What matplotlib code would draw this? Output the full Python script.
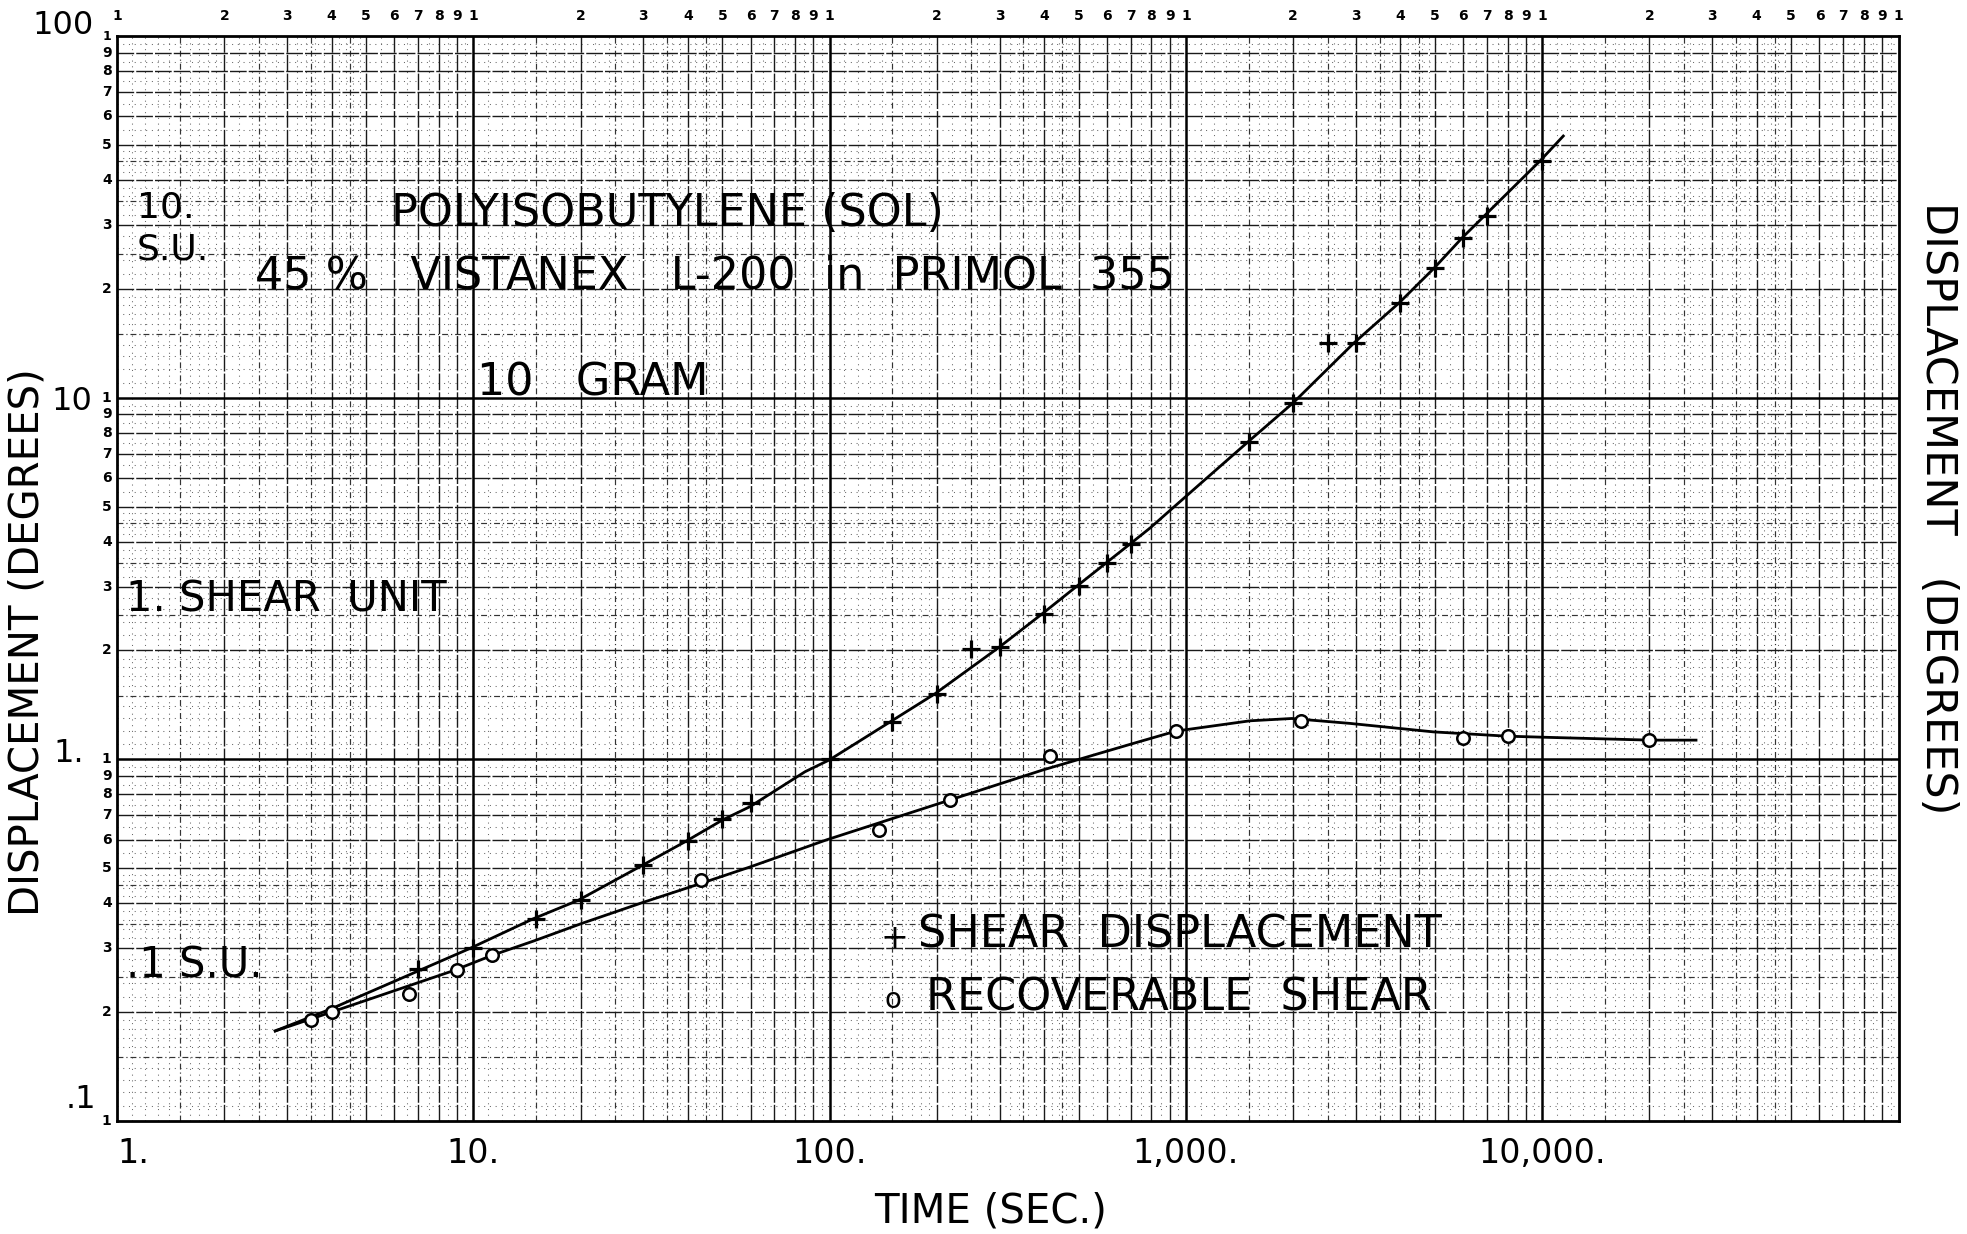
import numpy as np
import matplotlib
matplotlib.use("Agg")
import matplotlib.pyplot as plt

# ---------------- data ----------------
shear_t = [7, 10, 15, 20, 30, 40, 50, 60, 100, 150, 200, 250, 300, 400, 500,
           600, 700, 1500, 2000, 2500, 3000, 4000, 5000, 6000, 7000, 10000]
shear_d = [0.263, 0.30, 0.362, 0.408, 0.511, 0.596, 0.682, 0.756, 1.0, 1.27,
           1.52, 2.02, 2.04, 2.53, 3.02, 3.48, 3.94, 7.56, 9.68, 14.2, 14.2,
           18.3, 22.8, 27.7, 31.7, 45.1]

recov_t = [3.5, 4, 6.6, 9, 11.3, 43.5, 138, 218, 415, 940, 2100, 6000, 8000, 20000]
recov_d = [0.190, 0.200, 0.225, 0.261, 0.287, 0.465, 0.638, 0.773, 1.02, 1.20,
           1.277, 1.147, 1.16, 1.13]

# hand-drawn curves (vertices)
shear_curve_t = [2.78, 3.96, 9.74, 14.7, 19.7, 30.0, 39.7, 50.1, 59.8, 85.3, 99.8,
                 148, 198, 298, 396, 496, 697, 793, 1095, 1497, 2001, 2963, 3963,
                 4970, 5968, 9851, 11460]
shear_curve_d = [0.1774, 0.2036, 0.2994, 0.362, 0.4076, 0.511, 0.595, 0.680, 0.740,
                 0.924, 0.996, 1.27, 1.52, 2.036, 2.53, 3.02, 3.94, 4.36, 5.77, 7.56,
                 9.68, 14.17, 18.27, 22.8, 27.7, 45.1, 52.9]

recov_curve_t = [2.78, 3.96, 8.83, 11.28, 14.74, 20.36, 30.0, 43.6, 59.8, 98.1,
                 217.7, 396, 697, 938, 1513, 1982, 2888, 4948, 7950, 10440, 20080, 27020]
recov_curve_d = [0.1774, 0.1994, 0.2608, 0.287, 0.3143, 0.353, 0.4024, 0.454, 0.504,
                 0.599, 0.772, 0.934, 1.10, 1.197, 1.278, 1.297, 1.257, 1.191, 1.159,
                 1.15, 1.130, 1.130]

x_decade_labels = ["1.", "10.", "100.", "1,000.", "10,000."]
x_decades = [1, 10, 100, 1000, 10000]
y_decade_labels = [".1", "1.", "10", "100"]
y_decades = [0.1, 1, 10, 100]

# ---------------- figure ----------------
W, H = 1967, 1234
fig = plt.figure(figsize=(W / 100, H / 100), dpi=100)
L, R, T, B = 117, 1898.5, 36, 1121
ax = fig.add_axes([L / W, 1 - B / H, (R - L) / W, (B - T) / H])
ax.set_xscale("log")
ax.set_yscale("log")
ax.set_xlim(1, 1e5)
ax.set_ylim(0.1, 100)
ax.set_xticks([])
ax.set_yticks([])
ax.minorticks_off()
ax.tick_params(which="both", length=0, labelbottom=False, labelleft=False)
for s in ax.spines.values():
    s.set_linewidth(2.0)
    s.set_color("black")

# ---------------- graph paper grid ----------------
ink = "#1a1a1a"
fine_mult = [1.1, 1.2, 1.3, 1.4, 1.6, 1.7, 1.8, 1.9,
             2.2, 2.4, 2.6, 2.8, 3.2, 3.4, 3.6, 3.8, 4.2, 4.4, 4.6, 4.8,
             5.5, 6.5, 7.5, 8.5, 9.5]
half_mult = [1.5, 2.5, 3.5, 4.5]
int_mult = [2, 3, 4, 5, 6, 7, 8, 9]


def vlines(k_range, mults, **kw):
    for k in k_range:
        for m in mults:
            ax.axvline(m * 10.0 ** k, **kw)


def hlines(k_range, mults, **kw):
    for k in k_range:
        for m in mults:
            ax.axhline(m * 10.0 ** k, **kw)


fine_kw = dict(color="#6a6a6a", lw=0.75, ls=(0, (1, 4.5)), zorder=1)
half_kw = dict(color="#333333", lw=0.85, ls=(0, (5, 2.5, 1, 2.5)), zorder=1)
int_kw = dict(color=ink, lw=1.0, ls=(0, (12, 1.5)), zorder=1)
dec_kw = dict(color="black", lw=1.8, ls="-", zorder=1)

xk = range(0, 5)
yk = range(-1, 2)
vlines(xk, fine_mult, **fine_kw)
hlines(yk, fine_mult, **fine_kw)
vlines(xk, half_mult, **half_kw)
hlines(yk, half_mult, **half_kw)
vlines(xk, int_mult, **int_kw)
hlines(yk, int_mult, **int_kw)
vlines(range(1, 5), [1], **dec_kw)
hlines(range(0, 2), [1], **dec_kw)

# ---------------- curves and points ----------------
ax.plot(shear_curve_t, shear_curve_d, color="black", lw=2.0, zorder=3)
ax.plot(recov_curve_t, recov_curve_d, color="black", lw=2.0, zorder=3)
ax.plot(shear_t, shear_d, ls="none", marker="+", ms=13, mew=2.3, color="black", zorder=4)
ax.plot(recov_t, recov_d, ls="none", marker="o", ms=9, mew=1.8, mfc="white",
        mec="black", zorder=4)

# ---------------- paper tick numbers ----------------
tx = ax.get_xaxis_transform()
ty = ax.get_yaxis_transform()
small = dict(fontsize=10, fontweight="bold", color="black")
for k in range(0, 5):
    for m in range(1, 10):
        ax.text(m * 10.0 ** k, 1.012, str(m), transform=tx, ha="center", va="bottom", **small)
ax.text(1e5, 1.012, "1", transform=tx, ha="center", va="bottom", **small)
for k in range(-1, 2):
    for m in range(1, 10):
        ax.text(-0.003, m * 10.0 ** k, str(m), transform=ty, ha="right", va="center", **small)
ax.text(-0.003, 100, "1", transform=ty, ha="right", va="center", fontsize=9,
        fontweight="bold", color="black")


def axpos(X, Y):
    return (X - L) / (R - L), (B - Y) / (B - T)


# big decade labels (pixel anchors of their right edge / centre)
big = dict(fontsize=23, color="black", transform=ax.transAxes, ha="right", va="center")
ypos_px = {".1": (96, 1100), "1.": (84, 753), "10": (92, 402), "100": (94, 26)}
for lab in y_decade_labels:
    ax.text(*axpos(*ypos_px[lab]), lab, **big)
for i, (lab, v) in enumerate(zip(x_decade_labels, x_decades)):
    ax.text(v, -0.030, lab, transform=tx,
            ha="left" if i == 0 else "center", va="center", fontsize=24, color="black")

txt = dict(fontsize=32, color="black", transform=ax.transAxes, va="center", ha="left")
ax.text(*axpos(137, 208), "10.", fontsize=26, color="black", transform=ax.transAxes,
        va="center", ha="left")
ax.text(*axpos(137, 249), "S.U.", fontsize=26, color="black", transform=ax.transAxes,
        va="center", ha="left")
ax.text(*axpos(391, 214), "POLYISOBUTYLENE (SOL)", **txt)
ax.text(*axpos(255, 276), "45 %   VISTANEX   L-200  in  PRIMOL  355", **txt)
ax.text(*axpos(477, 383), "10   GRAM", **txt)
ax.text(*axpos(126, 600), "1. SHEAR  UNIT", fontsize=30, color="black",
        transform=ax.transAxes, va="center", ha="left")
ax.text(*axpos(126, 966), ".1 S.U.", fontsize=30, color="black",
        transform=ax.transAxes, va="center", ha="left")
ax.text(*axpos(880, 938), "+", fontsize=24, color="black", transform=ax.transAxes,
        va="center", ha="left")
ax.text(*axpos(918, 935), "SHEAR  DISPLACEMENT", fontsize=32, color="black",
        transform=ax.transAxes, va="center", ha="left")
ax.text(*axpos(884, 1000), "o", fontsize=20, color="black", transform=ax.transAxes,
        va="center", ha="left")
ax.text(*axpos(926, 998), "RECOVERABLE  SHEAR", fontsize=32, color="black",
        transform=ax.transAxes, va="center", ha="left")

ax.text(*axpos(991, 1211), "TIME (SEC.)", fontsize=29, color="black",
        transform=ax.transAxes, ha="center", va="center")
fig.text(28 / W, 1 - 642 / H, "DISPLACEMENT (DEGREES)", rotation=90, fontsize=29,
         ha="center", va="center")
fig.text(1938 / W, 1 - 508 / H, "DISPLACEMENT   (DEGREES)", rotation=-90, fontsize=31,
         ha="center", va="center")

fig.savefig("out.png", dpi=100, facecolor="white")
